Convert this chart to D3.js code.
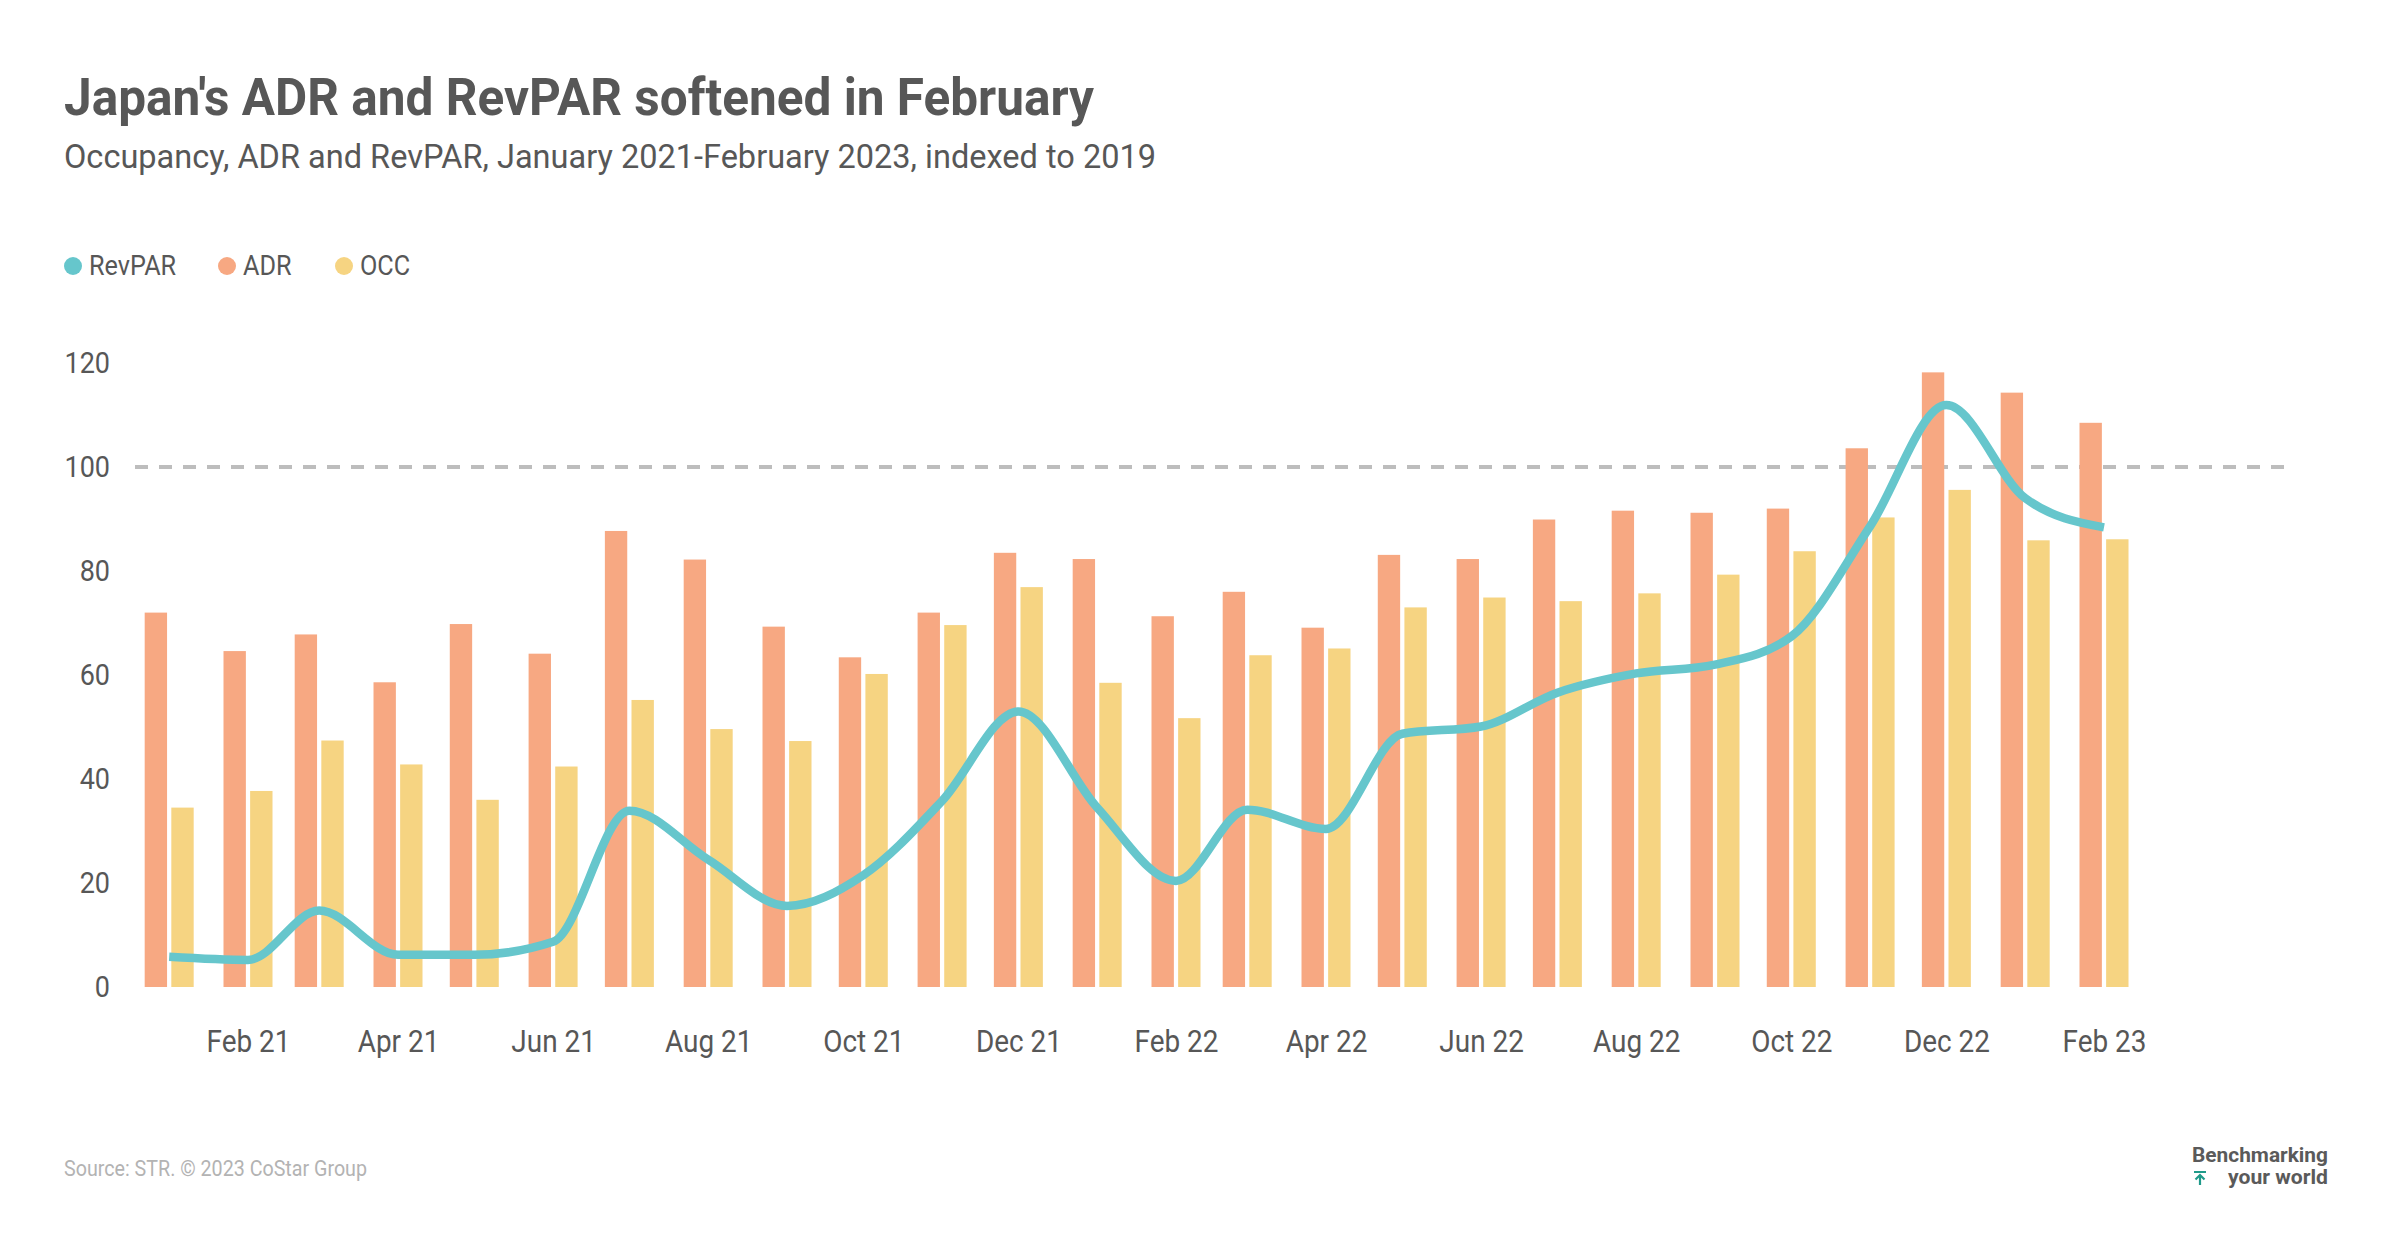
<!DOCTYPE html>
<html>
<head>
<meta charset="utf-8">
<script src="https://cdn.jsdelivr.net/npm/d3@7"></script>
<style>
  html, body { margin: 0; padding: 0; background: #ffffff; }
  svg { display: block; }
  text { font-family: Roboto, "Liberation Sans", sans-serif; }
</style>
</head>
<body>
<svg id="chart" width="2400" height="1256"></svg>
<script>
// ---- data ----
const months = ["2021-01","2021-02","2021-03","2021-04","2021-05","2021-06","2021-07","2021-08","2021-09","2021-10","2021-11","2021-12",
                "2022-01","2022-02","2022-03","2022-04","2022-05","2022-06","2022-07","2022-08","2022-09","2022-10","2022-11","2022-12",
                "2023-01","2023-02"];
const adr    = [72.0, 64.6, 67.8, 58.6, 69.8, 64.1, 87.7, 82.2, 69.3, 63.4, 72.0, 83.5,
                82.3, 71.3, 76.0, 69.1, 83.1, 82.3, 89.9, 91.6, 91.2, 92.0, 103.6, 118.2,
                114.3, 108.5];
const occ    = [34.5, 37.7, 47.4, 42.8, 36.0, 42.4, 55.2, 49.6, 47.3, 60.2, 69.6, 76.9,
                58.5, 51.7, 63.8, 65.1, 73.0, 74.9, 74.2, 75.7, 79.3, 83.8, 90.3, 95.6,
                85.9, 86.1];
const revpar = [5.8, 5.2, 14.7, 6.2, 6.2, 8.7, 33.9, 24.5, 15.6, 21.5, 35.8, 53.0,
                34.5, 20.4, 34.1, 30.4, 48.7, 50.1, 56.6, 60.3, 62.0, 67.4, 88.6, 111.9,
                94.0, 88.4];
const tickMonths = ["2021-02","2021-04","2021-06","2021-08","2021-10","2021-12",
                    "2022-02","2022-04","2022-06","2022-08","2022-10","2022-12","2023-02"];
const yTicks = [0, 20, 40, 60, 80, 100, 120];
const seriesNames = ["RevPAR", "ADR", "OCC"];
const colors = { RevPAR: "#66c6cc", ADR: "#f7a882", OCC: "#f6d482" };

const parse = d3.utcParse("%Y-%m");
const dates = months.map(parse);
const rows = dates.map((d, i) => ({ date: d, ADR: adr[i], OCC: occ[i], RevPAR: revpar[i] }));

const svg = d3.select("#chart");
const textColor = "#575757";

// ---- scales ----
const x = d3.scaleUtc()
  .domain([parse("2021-02"), parse("2023-02")])
  .range([248, 2104]);
const y = d3.scaleLinear().domain([0, 100]).range([987, 467]);
const inner = d3.scaleBand().domain(["ADR", "OCC"]).range([-24.5, 24.5]).paddingInner(0.16);

function condense(sel, factor) {
  sel.each(function () {
    const w = this.getComputedTextLength();
    d3.select(this).attr("textLength", w * factor).attr("lengthAdjust", "spacingAndGlyphs");
  });
}

// ---- title ----
svg.append("text").attr("x", 64).attr("y", 115)
  .attr("font-size", 52).attr("font-weight", 700).attr("fill", textColor)
  .text("Japan's ADR and RevPAR softened in February")
  .attr("textLength", 1030).attr("lengthAdjust", "spacingAndGlyphs");
svg.append("text").attr("x", 64).attr("y", 168)
  .attr("font-size", 34).attr("fill", textColor)
  .text("Occupancy, ADR and RevPAR, January 2021-February 2023, indexed to 2019")
  .attr("textLength", 1092).attr("lengthAdjust", "spacingAndGlyphs");

// ---- legend ----
const legendX = [73, 227, 344];
const legend = svg.append("g");
seriesNames.forEach((s, i) => {
  legend.append("circle").attr("cx", legendX[i]).attr("cy", 266).attr("r", 9).attr("fill", colors[s]);
  legend.append("text").attr("x", legendX[i] + 16).attr("y", 275)
    .attr("font-size", 28).attr("fill", textColor).text(s)
    .call(condense, 0.9);
});

// ---- y axis ----
const yAxis = svg.append("g").attr("transform", "translate(110,0)")
  .call(d3.axisLeft(y).tickValues(yTicks).tickSize(0).tickPadding(0));
yAxis.select(".domain").remove();
yAxis.selectAll("text").attr("font-size", 30).attr("fill", textColor)
  .style("font-family", "Roboto").call(condense, 0.9);

// ---- reference line at 100 ----
svg.append("line").attr("x1", 135).attr("x2", 2284).attr("y1", y(100)).attr("y2", y(100))
  .attr("stroke", "#bdbdbd").attr("stroke-width", 4).attr("stroke-dasharray", "13 11");

// ---- bars ----
["ADR", "OCC"].forEach(s => {
  svg.append("g").selectAll("rect").data(rows).join("rect")
    .attr("x", d => x(d.date) + inner(s))
    .attr("width", inner.bandwidth())
    .attr("y", d => y(d[s]))
    .attr("height", d => y(0) - y(d[s]))
    .attr("fill", colors[s]);
});

// ---- RevPAR line ----
const line = d3.line().x(d => x(d.date)).y(d => y(d.RevPAR)).curve(d3.curveMonotoneX);
svg.append("path").datum(rows).attr("d", line)
  .attr("fill", "none").attr("stroke", colors.RevPAR).attr("stroke-width", 8.5)
  .attr("stroke-linejoin", "round");

// ---- x axis ----
const xAxis = svg.append("g").attr("transform", "translate(0,1030)")
  .call(d3.axisBottom(x).tickValues(tickMonths.map(parse)).tickFormat(d3.utcFormat("%b %y"))
    .tickSize(0).tickPadding(0));
xAxis.select(".domain").remove();
xAxis.selectAll("text").attr("font-size", 31).attr("fill", textColor)
  .style("font-family", "Roboto").call(condense, 0.9);

// ---- footer ----
svg.append("text").attr("x", 64).attr("y", 1176).attr("font-size", 22).attr("fill", "#b3b3b3")
  .text("Source: STR. © 2023 CoStar Group")
  .attr("textLength", 303).attr("lengthAdjust", "spacingAndGlyphs");

const logo = svg.append("g");
logo.append("text").attr("x", 2328).attr("y", 1162).attr("text-anchor", "end")
  .attr("font-size", 21).attr("font-weight", 700).attr("fill", "#5a5a5a")
  .text("Benchmarking").attr("textLength", 136).attr("lengthAdjust", "spacingAndGlyphs");
logo.append("text").attr("x", 2328).attr("y", 1184).attr("text-anchor", "end")
  .attr("font-size", 21).attr("font-weight", 700).attr("fill", "#5a5a5a")
  .text("your world").attr("textLength", 100).attr("lengthAdjust", "spacingAndGlyphs");
logo.append("line").attr("x1", 2194).attr("x2", 2206).attr("y1", 1172).attr("y2", 1172)
  .attr("stroke", "#1f9a8a").attr("stroke-width", 2);
logo.append("path").attr("d", "M2200,1185 L2200,1175 M2195.5,1179.5 L2200,1175 L2204.5,1179.5")
  .attr("stroke", "#1f9a8a").attr("stroke-width", 2.2).attr("fill", "none");
</script>
</body>
</html>
